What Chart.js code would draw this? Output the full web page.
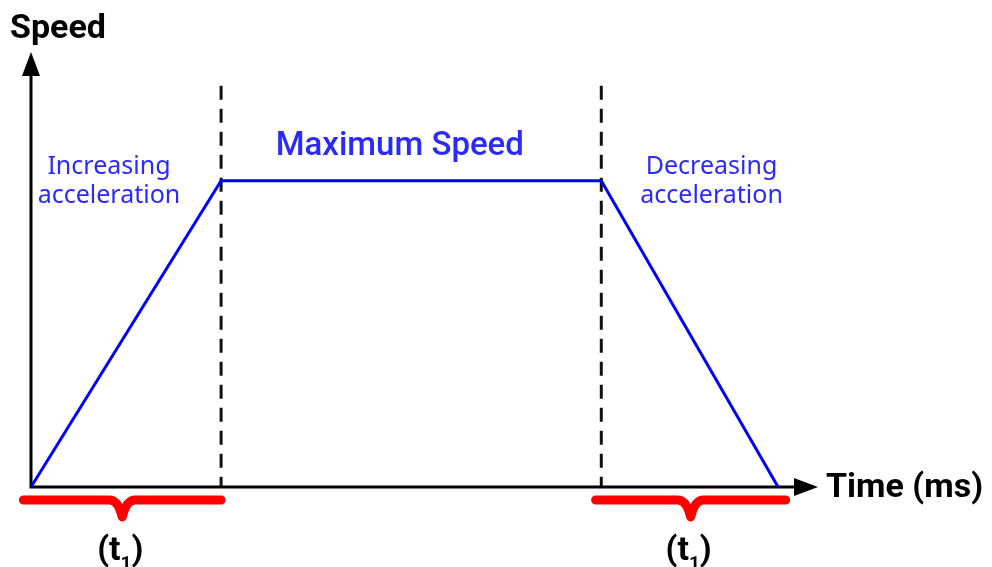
<!DOCTYPE html>
<html>
<head>
<meta charset="utf-8">
<script src="https://cdn.jsdelivr.net/npm/chart.js@4/dist/chart.umd.min.js"></script>
<style>
  html, body { margin: 0; padding: 0; background: #fff; }
  #wrap { width: 992px; height: 567px; }
</style>
</head>
<body>
<div id="wrap"><canvas id="speedChart"></canvas></div>
<script>
// ---- Data ----
const timePts   = [0, 10, 30, 39.3];
const speedPts  = [0, 10, 10, 0];
const phaseMarks = [10, 30];            // dashed boundaries
const t1Ranges  = [[-0.4, 10], [29.7, 39.7]];
const axisMax   = { x: 41.4, y: 14.2 };

const BLUE = '#0000ff';
const TEXT_BLUE = '#2a2aff';
const RED = '#ff0000';

// ---- Overlay plugin: axes, arrows, dashed marks, braces, labels ----
const overlay = {
  id: 'overlay',
  beforeDatasetsDraw(chart) {
    const { ctx, scales: { x, y } } = chart;
    const x0 = x.getPixelForValue(0), y0 = y.getPixelForValue(0);
    const xEnd = x.getPixelForValue(axisMax.x), yEnd = y.getPixelForValue(axisMax.y);
    ctx.save();

    // dashed phase lines
    ctx.strokeStyle = '#111';
    ctx.lineWidth = 3;
    ctx.setLineDash([14, 9]);
    phaseMarks.forEach(v => {
      const px = x.getPixelForValue(v);
      ctx.beginPath();
      ctx.moveTo(px, y.getPixelForValue(13.1));
      ctx.lineTo(px, y0);
      ctx.stroke();
    });
    ctx.setLineDash([]);

    // axes
    ctx.strokeStyle = '#000';
    ctx.lineWidth = 3;
    ctx.beginPath();
    ctx.moveTo(x0, yEnd + 18);
    ctx.lineTo(x0, y0);
    ctx.lineTo(xEnd - 18, y0);
    ctx.stroke();

    ctx.fillStyle = '#000';
    ctx.beginPath();
    ctx.moveTo(x0, yEnd);
    ctx.lineTo(x0 - 9, yEnd + 24);
    ctx.lineTo(x0 + 9, yEnd + 24);
    ctx.closePath();
    ctx.fill();
    ctx.beginPath();
    ctx.moveTo(xEnd, y0);
    ctx.lineTo(xEnd - 24, y0 - 9);
    ctx.lineTo(xEnd - 24, y0 + 9);
    ctx.closePath();
    ctx.fill();
    ctx.restore();
  },
  afterDatasetsDraw(chart) {
    const { ctx, scales: { x, y } } = chart;
    const y0 = y.getPixelForValue(0);
    ctx.save();

    // axis titles
    ctx.fillStyle = '#000';
    ctx.font = 'bold 34px Roboto';
    ctx.textBaseline = 'middle';
    ctx.textAlign = 'left';
    ctx.fillText('Speed', 10, 29);
    ctx.fillText('Time (ms)', x.getPixelForValue(axisMax.x) + 8, y0 + 1);

    // red braces + (t1)
    t1Ranges.forEach(r => {
      const a = x.getPixelForValue(r[0]), b = x.getPixelForValue(r[1]);
      const m = (a + b) / 2, top = y0 + 13, tip = y0 + 30;
      ctx.strokeStyle = RED;
      ctx.lineWidth = 9;
      ctx.lineCap = 'round';
      ctx.lineJoin = 'round';
      ctx.beginPath();
      ctx.moveTo(a, top);
      ctx.lineTo(m - 13, top);
      ctx.quadraticCurveTo(m - 4, top, m, tip);
      ctx.quadraticCurveTo(m + 4, top, m + 13, top);
      ctx.lineTo(b, top);
      ctx.stroke();

      ctx.fillStyle = '#000';
      ctx.textAlign = 'left';
      ctx.textBaseline = 'alphabetic';
      ctx.font = 'bold 34px Roboto';
      const w1 = ctx.measureText('(t').width;
      const w3 = ctx.measureText(')').width;
      ctx.font = 'bold 19px Roboto';
      const w2 = ctx.measureText('1').width;
      const sx = m - (w1 + w2 + w3) / 2 - 2;
      ctx.font = 'bold 34px Roboto';
      ctx.fillText('(t', sx, y0 + 73);
      ctx.fillText(')', sx + w1 + w2, y0 + 73);
      ctx.font = 'bold 19px Roboto';
      ctx.fillText('1', sx + w1, y0 + 82);
    });

    // phase labels
    ctx.fillStyle = TEXT_BLUE;
    ctx.textAlign = 'center';
    ctx.textBaseline = 'middle';
    ctx.font = '500 33px Roboto';
    ctx.fillText('Maximum Speed', x.getPixelForValue(19.4), y.getPixelForValue(11.1));
    ctx.font = '25px "Noto Sans"';
    const lx = x.getPixelForValue(4.1), rx = x.getPixelForValue(35.8);
    ctx.fillText('Increasing', lx, y.getPixelForValue(10.45));
    ctx.fillText('acceleration', lx, y.getPixelForValue(9.5));
    ctx.fillText('Decreasing', rx, y.getPixelForValue(10.45));
    ctx.fillText('acceleration', rx, y.getPixelForValue(9.5));
    ctx.restore();
  }
};

new Chart(document.getElementById('speedChart'), {
  type: 'line',
  data: {
    datasets: [{
      data: timePts.map((t, i) => ({ x: t, y: speedPts[i] })),
      borderColor: BLUE,
      borderWidth: 3,
      pointRadius: 0,
      tension: 0,
      fill: false
    }]
  },
  options: {
    responsive: true,
    maintainAspectRatio: false,
    animation: false,
    layout: { padding: { left: 31, right: 174, top: 52, bottom: 80 } },
    plugins: { legend: { display: false }, tooltip: { enabled: false } },
    scales: {
      x: { type: 'linear', min: 0, max: axisMax.x, display: false },
      y: { type: 'linear', min: 0, max: axisMax.y, display: false }
    }
  },
  plugins: [overlay]
});
</script>
</body>
</html>
